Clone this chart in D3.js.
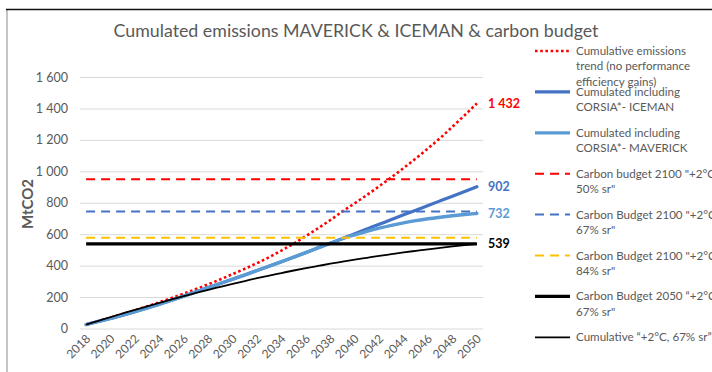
<!DOCTYPE html>
<html>
<head>
<meta charset="utf-8">
<script src="https://cdn.jsdelivr.net/npm/d3@7"></script>
<style>
  html, body { margin: 0; padding: 0; background: #fff; }
  svg { display: block; font-family: Lato, "Open Sans", sans-serif; }
</style>
</head>
<body>
<svg id="chart" width="712" height="372"></svg>
<script>
// Years on the category axis
const years = d3.range(2018, 2051);
const yTicks = [0, 200, 400, 600, 800, 1000, 1200, 1400, 1600];

// Cumulated emissions, MtCO2
const trendNoGains = [25, 47, 69, 92, 116, 141, 167, 194, 222, 251, 281, 313, 346, 380, 416, 454, 496,
  540, 588, 638, 690, 745, 797, 850, 905, 962, 1021, 1082, 1146, 1212, 1284, 1357, 1432];
const iceman = [25, 45, 64, 85, 107, 130, 154, 180, 206, 233, 260, 287, 314, 341, 369, 397, 425,
  454, 483, 513, 543, 573, 603, 633, 663, 693, 723, 752, 782, 812, 842, 872, 902];
const maverick = [25, 45, 64, 85, 107, 130, 154, 180, 206, 233, 260, 287, 314, 341, 369, 397, 425,
  454, 483, 513, 543, 572, 596, 618, 638, 656, 672, 686, 698, 708, 717, 725, 732];
const cumulative2C67 = [25, 49, 73, 96, 119, 141, 163, 185, 206, 226, 246, 265, 284, 302, 320, 337, 353,
  369, 384, 398, 412, 425, 438, 450, 462, 473, 484, 494, 504, 513, 522, 531, 539];

// Carbon budgets (flat lines)
const budget2100_50 = 950;
const budget2100_67 = 745;
const budget2100_84 = 578;
const budget2050_67 = 539;

// End-of-series labels
const endLabels = [
  { text: "1 432", value: 1432, color: "#FF0000" },
  { text: "902", value: 902, color: "#4472C4" },
  { text: "732", value: 732, color: "#5B9BD5" },
  { text: "539", value: 539, color: "#000000" }
];

const legendItems = [
  { lines: ["Cumulative emissions", "trend (no performance", "efficiency gains)"], color: "#FF0000", width: 2.6, dash: "2.6 2.6" },
  { lines: ["Cumulated including", "CORSIA*- ICEMAN"], color: "#4472C4", width: 3.2, dash: null },
  { lines: ["Cumulated including", "CORSIA*- MAVERICK"], color: "#5B9BD5", width: 3.2, dash: null },
  { lines: ["Carbon budget 2100 \"+2°C,", "50% sr\""], color: "#FF0000", width: 2, dash: "9 6" },
  { lines: ["Carbon Budget 2100 \"+2°C,", "67% sr\""], color: "#4472C4", width: 2, dash: "9 6" },
  { lines: ["Carbon Budget 2100 \"+2°C,", "84% sr\""], color: "#FFC000", width: 2, dash: "9 6" },
  { lines: ["Carbon Budget 2050 “+2°C,", "67% sr\""], color: "#000000", width: 3.2, dash: null },
  { lines: ["Cumulative “+2°C,  67% sr”"], color: "#000000", width: 1.8, dash: null }
];

const svg = d3.select("#chart");
const textGrey = "#595959";

// Chart frame
svg.append("line").attr("x1", 7).attr("x2", 7).attr("y1", 9).attr("y2", 372)
  .attr("stroke", "#8c8c8c").attr("stroke-width", 1);
svg.append("line").attr("x1", 6).attr("x2", 712).attr("y1", 9.5).attr("y2", 9.5)
  .attr("stroke", "#111").attr("stroke-width", 1.6);

// Title
svg.append("text").attr("x", 356).attr("y", 36.5).attr("text-anchor", "middle")
  .attr("font-size", 17.8).attr("fill", textGrey)
  .text("Cumulated emissions MAVERICK & ICEMAN & carbon budget");

// Scales
const plotLeft = 80, plotRight = 483, plotTop = 77, plotBottom = 328.5;
const x = d3.scaleBand().domain(years).range([plotLeft, plotRight]);
const xc = yr => x(yr) + x.bandwidth() / 2;
const y = d3.scaleLinear().domain([0, 1600]).range([plotBottom, plotTop]);

// Gridlines and value axis
const yAxis = d3.axisLeft(y).tickValues(yTicks).tickSize(-(plotRight - plotLeft)).tickPadding(12)
  .tickFormat(d => d3.format(",")(d).replace(/,/g, " "));
const gy = svg.append("g").attr("transform", `translate(${plotLeft},0)`).call(yAxis);
gy.select(".domain").remove();
gy.selectAll(".tick line").attr("stroke", "#D9D9D9").attr("stroke-width", 1);
gy.selectAll(".tick text").attr("fill", textGrey).attr("font-size", 12.5).attr("font-family", "Lato, sans-serif");

// Category axis, labels every two years
const xAxis = d3.axisBottom(x).tickValues(years.filter(v => v % 2 === 0)).tickSize(0).tickPadding(0);
const gx = svg.append("g").attr("transform", `translate(0,${plotBottom})`).call(xAxis);
gx.select(".domain").remove();
gx.selectAll(".tick text")
  .attr("fill", textGrey).attr("font-size", 12).attr("font-family", "Lato, sans-serif")
  .attr("text-anchor", "end").attr("dy", 0).attr("dx", 0)
  .attr("transform", "translate(5,11) rotate(-45)");

// Axis title
svg.append("text").attr("transform", "translate(33,204) rotate(-90)")
  .attr("text-anchor", "middle").attr("font-size", 15).attr("font-weight", "bold")
  .attr("fill", textGrey).text("MtCO2");

// Series
const line = d3.line().x((d, i) => xc(years[i])).y(d => y(d));
const smooth = d3.line().x((d, i) => xc(years[i])).y(d => y(d)).curve(d3.curveMonotoneX);
const plot = svg.append("g");

plot.append("path").datum(trendNoGains).attr("d", smooth).attr("fill", "none")
  .attr("stroke", "#FF0000").attr("stroke-width", 2.6).attr("stroke-dasharray", "2.6 2.6");
plot.append("path").datum(iceman).attr("d", smooth).attr("fill", "none")
  .attr("stroke", "#4472C4").attr("stroke-width", 3.2).attr("stroke-linecap", "round");
plot.append("path").datum(maverick).attr("d", smooth).attr("fill", "none")
  .attr("stroke", "#5B9BD5").attr("stroke-width", 3.4).attr("stroke-linecap", "round");

const flat = [
  { v: budget2100_50, color: "#FF0000", w: 2, dash: "9 6" },
  { v: budget2100_67, color: "#4472C4", w: 2, dash: "9 6" },
  { v: budget2100_84, color: "#FFC000", w: 2, dash: "9 6" },
  { v: budget2050_67, color: "#000000", w: 3.2, dash: null }
];
flat.forEach(f => {
  plot.append("path").datum(years.map(() => f.v)).attr("d", line).attr("fill", "none")
    .attr("stroke", f.color).attr("stroke-width", f.w)
    .attr("stroke-dasharray", f.dash);
});

plot.append("path").datum(cumulative2C67).attr("d", smooth).attr("fill", "none")
  .attr("stroke", "#000").attr("stroke-width", 1.8);

// End labels
svg.append("g").selectAll("text").data(endLabels).join("text")
  .attr("x", xc(2050) + 11).attr("y", d => y(d.value)).attr("dy", "0.35em")
  .attr("font-size", 12.5).attr("font-weight", "bold").attr("fill", d => d.color)
  .text(d => d.text);

// Legend
const lg = svg.append("g");
legendItems.forEach((it, i) => {
  const ly = 51 + i * 40.9;
  lg.append("line").attr("x1", 535).attr("x2", 570).attr("y1", ly).attr("y2", ly)
    .attr("stroke", it.color).attr("stroke-width", it.width).attr("stroke-dasharray", it.dash);
  const t = lg.append("text").attr("x", 576).attr("y", ly)
    .attr("font-size", 11.6).attr("fill", textGrey);
  it.lines.forEach((s, j) => {
    t.append("tspan").attr("x", 576).attr("dy", j === 0 ? "0.35em" : 15.3).text(s);
  });
});
</script>
</body>
</html>
